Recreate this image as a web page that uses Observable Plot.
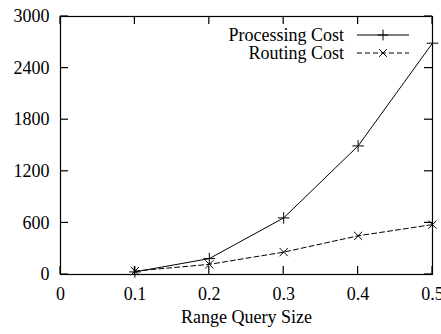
<!DOCTYPE html>
<html><head><meta charset="utf-8">
<script src="https://cdn.jsdelivr.net/npm/d3@7"></script>
<script src="https://cdn.jsdelivr.net/npm/@observablehq/plot@0.6"></script>
<style>body{margin:0;background:#fff;} svg{font-family:"Liberation Serif",serif;}</style>
</head><body><div id="chart"></div>
<script>
const querySizes = [0.1, 0.2, 0.3, 0.4, 0.5];
const processingCost = [30, 185, 658, 1495, 2690];
const routingCost = [40, 118, 260, 450, 580];
const xTicks = [0, 0.1, 0.2, 0.3, 0.4, 0.5];
const yTicks = [0, 600, 1200, 1800, 2400, 3000];
const seriesNames = ["Processing Cost", "Routing Cost"];
const xLabel = "Range Query Size";

const proc = querySizes.map((x, i) => ({x, y: processingCost[i]}));
const rout = querySizes.map((x, i) => ({x, y: routingCost[i]}));

const W = 441, H = 334, mL = 60, mR = 9, mT = 16, mB = 60, TL = 8;
const fmtX = d => d === 0 ? "0" : String(d);
const chart = Plot.plot({
  width: W, height: H,
  marginLeft: mL, marginRight: mR, marginTop: mT, marginBottom: mB,
  style: {fontFamily: "Liberation Serif, serif", fontSize: "18px", color: "#000", background: "#fff", overflow: "visible"},
  x: {domain: [0, 0.5]},
  y: {domain: [0, 3000]},
  marks: [
    Plot.frame({stroke: "#000", strokeWidth: 1.2}),
    Plot.axisX(xTicks, {anchor: "bottom", tickSize: 0, tickPadding: 13, tickFormat: fmtX, label: null, fontSize: 18}),
    Plot.axisY(yTicks, {anchor: "left", tickSize: 0, tickPadding: 11, tickFormat: d => String(d), label: null, fontSize: 18}),
    Plot.line(proc, {x: "x", y: "y", stroke: "#000", strokeWidth: 1}),
    Plot.dot(proc, {x: "x", y: "y", symbol: "plus", stroke: "#000", r: 3.8, strokeWidth: 1}),
    Plot.line(rout, {x: "x", y: "y", stroke: "#000", strokeWidth: 1, strokeDasharray: "5,3"}),
    Plot.dot(rout, {x: "x", y: "y", symbol: "times", stroke: "#000", r: 3.8, strokeWidth: 1}),
    Plot.text([xLabel], {frameAnchor: "bottom", dy: 48, fontSize: 18, fill: "#000"})
  ]
});
document.getElementById("chart").appendChild(chart);

const svg = d3.select(chart);
const sx = chart.scale("x"), sy = chart.scale("y");
const x0 = sx.apply(0), x1 = sx.apply(0.5), y0 = sy.apply(0), y1 = sy.apply(3000);
// inward mirrored ticks (gnuplot style)
const tg = svg.append("g").attr("stroke", "#000").attr("stroke-width", 1.2);
xTicks.forEach(t => {
  const px = sx.apply(t);
  tg.append("line").attr("x1", px).attr("x2", px).attr("y1", y0).attr("y2", y0 - TL);
  tg.append("line").attr("x1", px).attr("x2", px).attr("y1", y1).attr("y2", y1 + TL);
});
yTicks.forEach(t => {
  const py = sy.apply(t);
  tg.append("line").attr("x1", x0).attr("x2", x0 + TL).attr("y1", py).attr("y2", py);
  tg.append("line").attr("x1", x1).attr("x2", x1 - TL).attr("y1", py).attr("y2", py);
});

// legend inside plot (top-right)
const leg = svg.append("g");
const rows = [
  {name: seriesNames[0], y: 35, dash: null, sym: d3.symbolPlus},
  {name: seriesNames[1], y: 53, dash: "5,3", sym: d3.symbolTimes}
];
rows.forEach(r => {
  leg.append("text").attr("x", 344).attr("y", r.y).attr("dy", "0.32em")
    .attr("text-anchor", "end").attr("font-size", 18).attr("fill", "#000").text(r.name);
  leg.append("line").attr("x1", 357).attr("x2", 409).attr("y1", r.y).attr("y2", r.y)
    .attr("stroke", "#000").attr("stroke-dasharray", r.dash);
  leg.append("path").attr("transform", `translate(383,${r.y})`)
    .attr("d", d3.symbol(r.sym, 40)()).attr("fill", "none").attr("stroke", "#000");
});
</script></body></html>
